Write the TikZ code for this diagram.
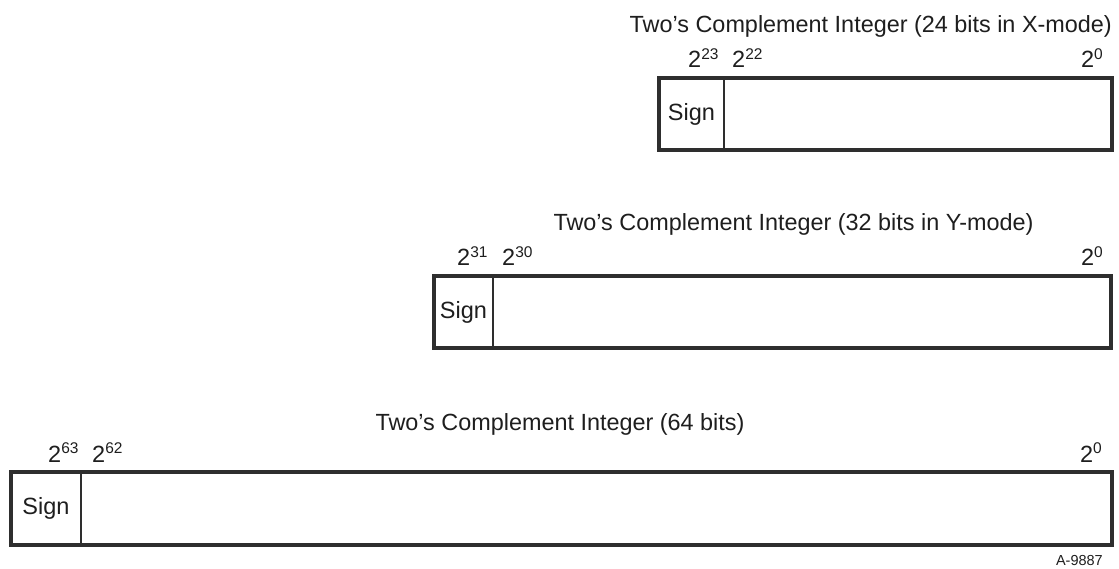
\documentclass[tikz,border=0pt]{standalone}
\usepackage{fontspec}
\setmainfont{Liberation Sans}
\definecolor{ink}{HTML}{1E1E1E}
\definecolor{lineink}{HTML}{2E2E2E}
\newcommand{\bitpow}[1]{2\raisebox{8.5pt}{\fontsize{15.5}{15.5}\selectfont #1}}
\begin{document}
\begin{tikzpicture}[x=1pt,y=-1pt,
  regbox/.style={draw=lineink, line width=3.4pt, inner sep=0pt, outer sep=0pt, anchor=north west, minimum height=72pt},
  signcell/.style={draw=lineink, line width=1.8pt, inner sep=0pt, outer sep=0pt, anchor=north west, minimum height=72pt, text=ink, font=\fontsize{23.5}{26}\selectfont},
  titletext/.style={inner sep=0pt, text=ink, font=\fontsize{23.4}{26}\selectfont},
  bitlabel/.style={inner sep=0pt, text=ink, font=\fontsize{23.5}{26}\selectfont},
  tagtext/.style={inner sep=0pt, text=ink, font=\fontsize{14.5}{16}\selectfont},
]
\useasboundingbox[fill=white] (0,0) rectangle (1119,569);

% ---- 24-bit ----
\node[titletext, anchor=base east] (t1) at (1112,33) {Two’s Complement Integer (24 bits in X-mode)};
\node[signcell, minimum width=65pt] (s1) at (659,78) {\raisebox{-4pt}{Sign}};
\node[regbox, minimum width=453pt] (r1) at (659,78) {};
\node[bitlabel, anchor=base west] (a1) at (688,68) {\bitpow{23}};
\node[bitlabel, anchor=base west] (b1) at (732,68) {\bitpow{22}};
\node[bitlabel, anchor=base east] (c1) at (1103,68) {\bitpow{0}};

% ---- 32-bit ----
\node[titletext, anchor=base] (t2) at (793.5,231) {Two’s Complement Integer (32 bits in Y-mode)};
\node[signcell, minimum width=59pt] (s2) at (434,276) {\raisebox{-4pt}{Sign}};
\node[regbox, minimum width=677pt] (r2) at (434,276) {};
\node[bitlabel, anchor=base west] (a2) at (457,266) {\bitpow{31}};
\node[bitlabel, anchor=base west] (b2) at (502,266) {\bitpow{30}};
\node[bitlabel, anchor=base east] (c2) at (1103,266) {\bitpow{0}};

% ---- 64-bit ----
\node[titletext, anchor=base] (t3) at (560,430) {Two’s Complement Integer (64 bits)};
\node[signcell, minimum width=70pt, minimum height=73pt] (s3) at (11,472) {\raisebox{-4pt}{Sign}};
\node[regbox, minimum width=1101pt, minimum height=73pt] (r3) at (11,472) {};
\node[bitlabel, anchor=base west] (a3) at (48,462) {\bitpow{63}};
\node[bitlabel, anchor=base west] (b3) at (92,462) {\bitpow{62}};
\node[bitlabel, anchor=base east] (c3) at (1102,462) {\bitpow{0}};

\node[tagtext, anchor=base east] (tag) at (1103,565) {A-9887};
\end{tikzpicture}
\end{document}
